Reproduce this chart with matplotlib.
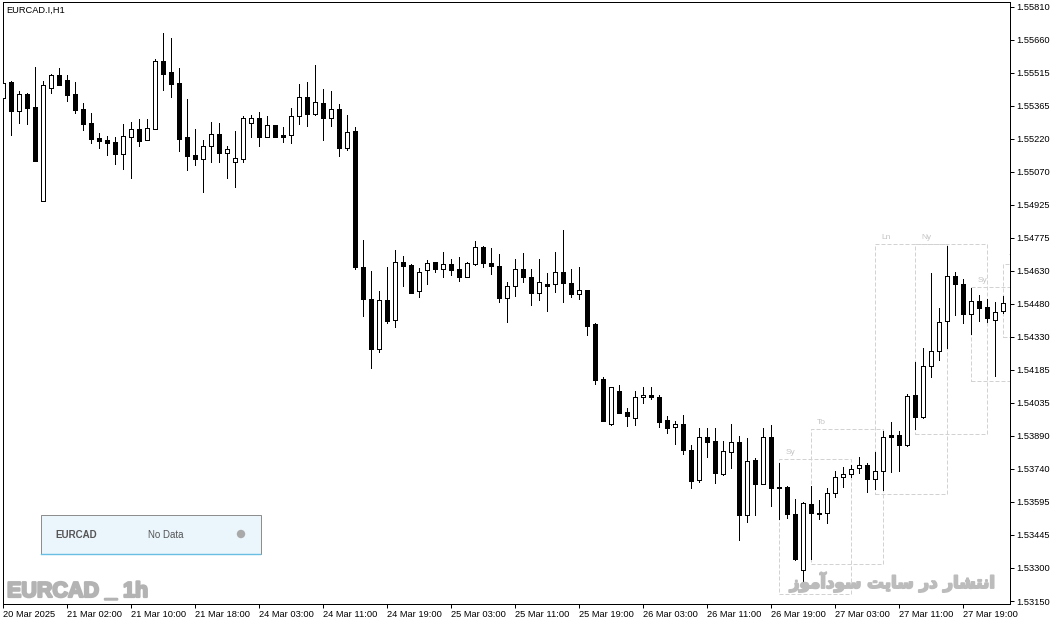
import matplotlib
matplotlib.use("Agg")
import matplotlib.pyplot as plt
from matplotlib.patches import Rectangle, Circle
from matplotlib.lines import Line2D
import matplotlib.patheffects as pe
import numpy as np

# ---- EURCAD.I H1 candles (open, high, low, close) ----
opens = [1.55400, 1.55474, 1.55344, 1.55419, 1.55361, 1.54941, 1.55447, 1.55502, 1.55481, 1.55419,
         1.55352, 1.55289, 1.55223, 1.55213, 1.55204, 1.55152, 1.55225, 1.55262, 1.55214, 1.55264,
         1.55567, 1.55519, 1.55468, 1.55228, 1.55146, 1.55129, 1.55186, 1.55240, 1.55156, 1.55116,
         1.55129, 1.55288, 1.55311, 1.55228, 1.55280, 1.55235, 1.55234, 1.55319, 1.55404, 1.55328,
         1.55379, 1.55310, 1.55352, 1.55179, 1.55253, 1.54643, 1.54500, 1.54276, 1.54497, 1.54406,
         1.54666, 1.54654, 1.54536, 1.54630, 1.54666, 1.54637, 1.54658, 1.54634, 1.54601, 1.54657,
         1.54733, 1.54663, 1.54649, 1.54507, 1.54558, 1.54634, 1.54600, 1.54530, 1.54567, 1.54567,
         1.54621, 1.54572, 1.54523, 1.54540, 1.54390, 1.54144, 1.53941, 1.54088, 1.53996, 1.53968,
         1.54062, 1.54071, 1.54063, 1.53959, 1.53927, 1.53942, 1.53824, 1.53693, 1.53883, 1.53865,
         1.53720, 1.53818, 1.53860, 1.53536, 1.53780, 1.53675, 1.53883, 1.53659, 1.53659, 1.53538,
         1.53287, 1.53585, 1.53545, 1.53543, 1.53635, 1.53704, 1.53718, 1.53744, 1.53757, 1.53697,
         1.53730, 1.53892, 1.53892, 1.53847, 1.54071, 1.53972, 1.54200, 1.54267, 1.54402, 1.54603,
         1.54567, 1.54433, 1.54491, 1.54464, 1.54408, 1.54446]
highs = [1.55522, 1.55477, 1.55434, 1.55423, 1.55541, 1.55477, 1.55508, 1.55535, 1.55504, 1.55472,
         1.55380, 1.55334, 1.55243, 1.55231, 1.55226, 1.55285, 1.55294, 1.55307, 1.55307, 1.55574,
         1.55692, 1.55671, 1.55534, 1.55395, 1.55264, 1.55213, 1.55292, 1.55289, 1.55186, 1.55253,
         1.55320, 1.55325, 1.55338, 1.55319, 1.55282, 1.55271, 1.55356, 1.55464, 1.55474, 1.55549,
         1.55441, 1.55432, 1.55374, 1.55325, 1.55273, 1.54766, 1.54627, 1.54537, 1.54643, 1.54721,
         1.54694, 1.54657, 1.54640, 1.54676, 1.54668, 1.54711, 1.54679, 1.54689, 1.54666, 1.54761,
         1.54737, 1.54730, 1.54703, 1.54579, 1.54681, 1.54707, 1.54636, 1.54679, 1.54617, 1.54711,
         1.54810, 1.54634, 1.54643, 1.54542, 1.54395, 1.54151, 1.54108, 1.54115, 1.54014, 1.54088,
         1.54108, 1.54108, 1.54072, 1.53978, 1.53954, 1.53981, 1.53847, 1.53923, 1.53923, 1.53923,
         1.53865, 1.53941, 1.53887, 1.53878, 1.53789, 1.53923, 1.53936, 1.53769, 1.53666, 1.53605,
         1.53592, 1.53665, 1.53601, 1.53654, 1.53732, 1.53750, 1.53760, 1.53796, 1.53766, 1.53816,
         1.53909, 1.53950, 1.53909, 1.54075, 1.54218, 1.54282, 1.54617, 1.54460, 1.54739, 1.54621,
         1.54590, 1.54549, 1.54519, 1.54500, 1.54487, 1.54515]
lows = [1.55299, 1.55235, 1.55290, 1.55285, 1.55118, 1.54939, 1.55425, 1.55458, 1.55389, 1.55335,
        1.55258, 1.55198, 1.55179, 1.55146, 1.55106, 1.55083, 1.55044, 1.55188, 1.55212, 1.55262,
        1.55437, 1.55404, 1.55165, 1.55080, 1.55103, 1.54982, 1.55115, 1.55116, 1.55044, 1.55004,
        1.55116, 1.55228, 1.55188, 1.55226, 1.55226, 1.55205, 1.55201, 1.55286, 1.55277, 1.55324,
        1.55214, 1.55277, 1.55143, 1.55168, 1.54634, 1.54427, 1.54191, 1.54263, 1.54393, 1.54378,
        1.54561, 1.54528, 1.54512, 1.54570, 1.54624, 1.54601, 1.54610, 1.54582, 1.54599, 1.54654,
        1.54646, 1.54615, 1.54489, 1.54400, 1.54515, 1.54579, 1.54476, 1.54497, 1.54449, 1.54533,
        1.54487, 1.54509, 1.54503, 1.54342, 1.54122, 1.53955, 1.53939, 1.53991, 1.53935, 1.53939,
        1.54037, 1.54055, 1.53930, 1.53903, 1.53854, 1.53809, 1.53657, 1.53684, 1.53796, 1.53679,
        1.53715, 1.53747, 1.53424, 1.53505, 1.53536, 1.53673, 1.53577, 1.53518, 1.53520, 1.53335,
        1.53236, 1.53337, 1.53518, 1.53498, 1.53614, 1.53662, 1.53704, 1.53724, 1.53639, 1.53653,
        1.53648, 1.53729, 1.53733, 1.53845, 1.53921, 1.53970, 1.54154, 1.54227, 1.54284, 1.54429,
        1.54395, 1.54346, 1.54401, 1.54400, 1.54159, 1.54439]
closes = [1.55469, 1.55344, 1.55418, 1.55358, 1.55120, 1.55458, 1.55502, 1.55460, 1.55416, 1.55349,
          1.55286, 1.55219, 1.55210, 1.55201, 1.55152, 1.55230, 1.55262, 1.55210, 1.55267, 1.55567,
          1.55508, 1.55464, 1.55219, 1.55143, 1.55127, 1.55186, 1.55239, 1.55156, 1.55171, 1.55131,
          1.55311, 1.55311, 1.55228, 1.55279, 1.55228, 1.55228, 1.55319, 1.55404, 1.55328, 1.55382,
          1.55310, 1.55352, 1.55179, 1.55250, 1.54643, 1.54500, 1.54276, 1.54497, 1.54404, 1.54666,
          1.54651, 1.54530, 1.54621, 1.54661, 1.54637, 1.54657, 1.54633, 1.54601, 1.54663, 1.54733,
          1.54664, 1.54648, 1.54507, 1.54558, 1.54634, 1.54599, 1.54530, 1.54576, 1.54558, 1.54621,
          1.54572, 1.54523, 1.54540, 1.54382, 1.54140, 1.53957, 1.54106, 1.53993, 1.53979, 1.54062,
          1.54071, 1.54063, 1.53952, 1.53926, 1.53941, 1.53827, 1.53688, 1.53883, 1.53863, 1.53724,
          1.53820, 1.53860, 1.53536, 1.53775, 1.53675, 1.53883, 1.53657, 1.53657, 1.53538, 1.53337,
          1.53590, 1.53543, 1.53541, 1.53635, 1.53704, 1.53720, 1.53739, 1.53757, 1.53697, 1.53730,
          1.53885, 1.53885, 1.53847, 1.54066, 1.53972, 1.54200, 1.54267, 1.54397, 1.54603, 1.54567,
          1.54433, 1.54491, 1.54460, 1.54415, 1.54443, 1.54482]

# time axis labels, one every 8 bars
time_labels = ["20 Mar 2025", "21 Mar 02:00", "21 Mar 10:00", "21 Mar 18:00",
               "24 Mar 03:00", "24 Mar 11:00", "24 Mar 19:00", "25 Mar 03:00",
               "25 Mar 11:00", "25 Mar 19:00", "26 Mar 03:00", "26 Mar 11:00",
               "26 Mar 19:00", "27 Mar 03:00", "27 Mar 11:00", "27 Mar 19:00"]
price_labels = ["1.53150", "1.53300", "1.53445", "1.53595", "1.53740", "1.53890",
                "1.54035", "1.54185", "1.54330", "1.54480", "1.54630", "1.54775",
                "1.54925", "1.55070", "1.55220", "1.55365", "1.55515", "1.55660",
                "1.55810"]

# trading-session ranges (bar index span, high, low)
session_names = ["Sy", "To", "Ln", "Ny", "Sy", "To"]
session_start = [97, 101, 109, 114, 121, 125]
session_end = [106, 110, 118, 123, 130, 134]
session_high = [1.53784, 1.53918, 1.54746, 1.54746, 1.54554, 1.54658]
session_low = [1.53181, 1.53316, 1.53628, 1.53896, 1.54135, 1.54330]

W, H = 1056, 625
PX = 72.0 / 100.0  # one pixel in points
fig = plt.figure(figsize=(W / 100, H / 100), dpi=100)
fig.patch.set_facecolor("white")

ax_l, ax_r, ax_t, ax_b = 2.5, 1010, 1.5, 604
ax = fig.add_axes([ax_l / W, 1 - ax_b / H, (ax_r - ax_l) / W, (ax_b - ax_t) / H])
ax.set_facecolor("white")

o = np.array(opens); h = np.array(highs); l = np.array(lows); c = np.array(closes)
x = np.arange(len(o))
bull = c >= o

# wicks
ax.vlines(x, l, h, color="black", linewidth=PX, zorder=2, antialiased=False)
# bodies
bottoms = np.minimum(o, c)
heights = np.maximum(np.abs(c - o), 0.000005)
ax.bar(x, heights, bottom=bottoms, width=0.5,
       color=np.where(bull, "white", "black"), edgecolor="black",
       linewidth=PX, zorder=3, antialiased=False)

# session boxes
for name, s, e, hi, lo in zip(session_names, session_start, session_end,
                              session_high, session_low):
    ax.add_patch(Rectangle((s, lo), e - s, hi - lo, fill=False,
                           edgecolor="#d2d2d2", linewidth=PX,
                           linestyle=(0, (4, 2)), zorder=1))
    ax.annotate(name, (s, hi), xytext=(6 * PX, 3 * PX), textcoords="offset points",
                fontsize=6, color="#c4c4c4", family="Liberation Sans",
                ha="left", va="bottom", annotation_clip=False, clip_on=True)

ax.set_xlim(-0.1, 125.84)
ax.set_ylim(1.531366, 1.558328)

ax.set_xticks(np.arange(len(time_labels)) * 8)
ax.set_xticklabels(time_labels)
for t in ax.get_xticklabels():
    t.set_horizontalalignment("left")
price_ticks = np.linspace(1.53150, 1.55810, len(price_labels))
ax.yaxis.tick_right()
ax.set_yticks(price_ticks)
ax.set_yticklabels(price_labels)
ax.tick_params(axis="both", direction="out", length=4 * PX, width=PX,
               colors="black", labelsize=6.7, pad=2 * PX)
for t in ax.get_xticklabels() + ax.get_yticklabels():
    t.set_family("Liberation Sans")
for sp in ax.spines.values():
    sp.set_linewidth(PX)
    sp.set_color("black")


def fx(px):
    return px / W


def fy(py):
    return 1 - py / H


# symbol / timeframe caption
fig.text(fx(6), fy(10), "EURCAD.I,H1", fontsize=6.7, family="Liberation Sans",
         color="black", ha="left", va="center")

# info panel
fig.add_artist(Rectangle((fx(40.5), fy(553.5)), fx(220), 39 / H,
                         transform=fig.transFigure, facecolor="#eaf5fc",
                         edgecolor="#8e8e8e", linewidth=PX, zorder=5))
fig.add_artist(Line2D([fx(41), fx(260)], [fy(553.5), fy(553.5)],
                      transform=fig.transFigure, color="#69bfe3",
                      linewidth=1.4 * PX, zorder=6))
fig.text(fx(55), fy(534.5), "EURCAD", fontsize=7, weight="bold",
         family="Liberation Sans", color="#555555", ha="left", va="center", zorder=7)
fig.text(fx(148), fy(534.5), "No Data", fontsize=7, family="Liberation Sans",
         color="#555555", ha="left", va="center", zorder=7)
fig.add_artist(Circle((241 / 100, (H - 534) / 100), 0.042,
                      transform=fig.dpi_scale_trans,
                      facecolor="#a9a9a9", edgecolor="none", zorder=7))

# watermark captions
fig.text(fx(7), fy(597), "EURCAD _ 1h", fontsize=15.5, weight="bold",
         family=["Liberation Sans", "DejaVu Sans"], color="#b3b3b3",
         ha="left", va="baseline", zorder=4,
         path_effects=[pe.withStroke(linewidth=1.6, foreground="#b3b3b3")])
fa = "\uFEAF\uFEEE\uFEE3\uFE81\uFEA9\uFEEE\uFEB3 \uFE96\uFEF3\uFE8E\uFEB3 \uFEAD\uFEA9 \uFEAD\uFE8E\uFEB8\uFE98\uFEE7\uFE8D"
fig.text(fx(995), fy(582), fa, fontsize=12, weight="bold", family="DejaVu Sans",
         color="#bcbcbc", ha="right", va="center", zorder=4,
         path_effects=[pe.withStroke(linewidth=1.3, foreground="#bcbcbc")])

fig.savefig("out.png", dpi=100)
